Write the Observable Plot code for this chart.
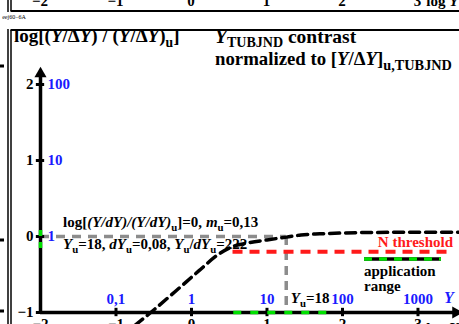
<!DOCTYPE html>
<html><head><meta charset="utf-8">
<script src="https://cdn.jsdelivr.net/npm/d3@7"></script>
<script src="https://cdn.jsdelivr.net/npm/@observablehq/plot@0.6"></script>
<style>html,body{margin:0;padding:0;background:#fff;overflow:hidden}svg{display:block}</style>
</head><body><div id="chart"></div>
<script>
// ---- data ----
const xTicks = [-2, -1, 0, 1, 2, 3];
const xTickLabels = ["−2", "−1", "0", "1", "2", "3"];
const yTicks = [2, 1, 0, -1];
const yTickLabels = ["2", "1", "0", "−1"];
const yBlueTicks = [2, 1, 0];
const yBlueLabels = ["100", "10", "1"];
const xBlueTicks = [-1, 0, 1, 2, 3];
const xBlueLabels = ["0,1", "1", "10", "100", "1000"];
const curveLogY = [-0.75, -0.54, -0.2, 0.1, 0.35, 0.55, 0.75, 1.0, 1.26, 1.45, 1.7, 2.0, 2.3, 2.8, 3.55];
const curveValue = [-1.17, -1.0, -0.71, -0.45, -0.24, -0.13, -0.085, -0.045, -0.008, 0.02, 0.035, 0.046, 0.052, 0.055, 0.056];
const logYu = 1.255;
const nThreshold = -0.2;
const thresholdRange = [0.55, 3.46];
const appRangeX = [0.56, 1.85];
const appRangeY = [0.08, -0.2];

const curve = curveLogY.map((x, i) => ({x, y: curveValue[i]}));
const serif = "'Liberation Serif', 'DejaVu Serif', serif";
const blue = "#1a1aff";
const green = "#00e000";
const gray = "#8c8c8c";

const plot = Plot.plot({
  width: 459, height: 324,
  marginTop: 0, marginRight: 0, marginBottom: 0, marginLeft: 0,
  x: {domain: [-2, 3.55], range: [40, 459], axis: null},
  y: {domain: [-1, 2], range: [312, 84], axis: null},
  style: {fontFamily: serif, background: "white", overflow: "hidden"},
  marks: [
    Plot.ruleY([0], {x1: -2, x2: logYu, stroke: gray, strokeWidth: 3.5, strokeDasharray: "9,7"}),
    Plot.ruleX([logYu], {y1: 0, y2: -1, stroke: gray, strokeWidth: 3.5, strokeDasharray: "9,6"}),
    Plot.ruleY([nThreshold], {x1: thresholdRange[0], x2: thresholdRange[1], stroke: "#ff1a1a", strokeWidth: 4, strokeDasharray: "10,7"}),
    Plot.ruleX([-2], {y1: -1, y2: 2.12, strokeWidth: 3.5}),
    Plot.ruleY([-1], {x1: -2, x2: 3.48, strokeWidth: 3.5}),
    Plot.dot([{x: -2, y: 2.14}], {x: "x", y: "y", symbol: "triangle", r: 4.5, fill: "black", stroke: null}),
    Plot.dot([{x: 3.5, y: -1}], {x: "x", y: "y", symbol: "triangle", r: 4.5, fill: "black", stroke: null, rotate: 90}),
    Plot.ruleY(yTicks, {x1: -2.055, x2: -1.945, strokeWidth: 3}),
    Plot.ruleX(xTicks.slice(1), {y1: -1.055, y2: -0.945, strokeWidth: 3}),
    Plot.ruleY([-1], {x1: appRangeX[0], x2: appRangeX[1], stroke: green, strokeWidth: 3.5, strokeDasharray: "8,9"}),
    Plot.ruleX([-2], {y1: appRangeY[0], y2: appRangeY[1], stroke: green, strokeWidth: 3.5, strokeDasharray: "6,6"}),
    Plot.line(curve, {x: "x", y: "y", stroke: "black", strokeWidth: 3.5, strokeDasharray: "10,6", curve: "monotone-x", clip: true}),
    Plot.text(yTicks, {x: () => -2, y: d => d, text: (d, i) => yTickLabels[i], textAnchor: "end", dx: -7, fontSize: 15, fontWeight: "bold", fill: "black"}),
    Plot.text(yBlueTicks, {x: () => -2, y: d => d, text: (d, i) => yBlueLabels[i], textAnchor: "start", dx: 7, fontSize: 15, fontWeight: "bold", fill: blue}),
    Plot.text(xBlueTicks, {x: d => d, y: () => -1, text: (d, i) => xBlueLabels[i], lineAnchor: "bottom", dy: -9, fontSize: 15, fontWeight: "bold", fill: blue}),
    Plot.text(xTicks, {x: d => d, y: () => -1, text: (d, i) => xTickLabels[i], lineAnchor: "top", dy: 6, fontSize: 15, fontWeight: "bold", fill: "black"})
  ]
});

document.getElementById("chart").appendChild(plot);
const svg = d3.select(plot);
const xs = plot.scale("x").apply, ys = plot.scale("y").apply;

function rich(x, y, parts, opts = {}) {
  const size = opts.size || 15;
  const sub = opts.sub || 0.72;
  const drop = opts.drop != null ? opts.drop : Math.round(size * 0.27);
  const t = svg.append("text").attr("x", x).attr("y", y)
    .attr("font-family", serif).attr("font-weight", opts.weight || "bold")
    .attr("font-size", size).attr("fill", opts.fill || "black")
    .attr("text-anchor", opts.anchor || "start");
  let shifted = 0;
  for (const p of parts) {
    const [txt, st] = Array.isArray(p) ? p : [p, ""];
    const ts = t.append("tspan").text(txt);
    if (st.includes("i")) ts.attr("font-style", "italic");
    const want = st.includes("s") ? drop : 0;
    if (want !== shifted) { ts.attr("dy", want - shifted); shifted = want; }
    if (st.includes("s")) ts.attr("font-size", size * sub);
  }
  return t;
}

const line = (x1, y1, x2, y2, w) => svg.append("line").attr("x1", x1).attr("y1", y1).attr("x2", x2).attr("y2", y2).attr("stroke", "black").attr("stroke-width", w);
line(8, 0, 8, 12, 1.5);
line(11, 0, 11, 11, 1.5);
line(10.5, 11, 459, 11, 2);
line(8, 29, 8, 324, 1.5);
line(11, 30, 11, 324, 1.5);
line(10.5, 30, 459, 30, 2);

xTicks.forEach((d, i) => svg.append("text").attr("x", xs(d)).attr("y", 6).attr("text-anchor", "middle")
  .attr("font-family", serif).attr("font-weight", "bold").attr("font-size", 15).text(xTickLabels[i]));
rich(xs(3) + 5, 6, [" log ", ["Y", "i"]]);
rich(xs(3) + 5, ys(-1) + 21, [" log ", ["Y", "i"]]);

svg.append("text").attr("x", 14).attr("y", 19).attr("font-family", serif).attr("font-size", 6).text("eej60−6A");

rich(14, 42, ["log[(", ["Y", "i"], "/Δ", ["Y", "i"], ") / (", ["Y", "i"], "/Δ", ["Y", "i"], ")", ["u", "s"], "]"], {size: 19});
rich(215, 43, [["Y", "i"], ["TUBJND", "s"], " contrast"], {size: 19.5, drop: 4});
rich(215, 65, ["normalized to [", ["Y", "i"], "/Δ", ["Y", "i"], "]", ["u,TUBJND", "s"]], {size: 18.8, sub: 0.76, drop: 5});

rich(63, 227, ["log[", ["(Y/dY)/(Y/dY)", "i"], ["u", "s"], "]=0, ", ["m", "i"], ["u", "s"], "=0,13"], {size: 15});
rich(63, 249, [["Y", "i"], ["u", "s"], "=18, ", ["dY", "i"], ["u", "s"], "=0,08, ", ["Y", "i"], ["u", "s"], "/", ["dY", "i"], ["u", "s"], "=222"], {size: 15});
rich(453, 247, ["N threshold"], {size: 15, fill: "#ff1a1a", anchor: "end"});
rich(xs(logYu) + 5, 303, [["Y", "i"], ["u", "s"], "=18"], {size: 15});
rich(444, 303, [["Y", "i"]], {size: 16, fill: blue});

svg.append("line").attr("x1", 364).attr("x2", 441).attr("y1", 259).attr("y2", 259).attr("stroke", "black").attr("stroke-width", 3.5);
svg.append("line").attr("x1", 364).attr("x2", 441).attr("y1", 259).attr("y2", 259).attr("stroke", green).attr("stroke-width", 3.5).attr("stroke-dasharray", "8,7");
rich(364, 276, ["application"], {size: 15});
rich(364, 291, ["range"], {size: 15});

[[66], [240], [311]].forEach(([y]) => svg.append("rect").attr("x", 0).attr("y", y - 1.5).attr("width", 4).attr("height", 3).attr("fill", "black"));
</script></body></html>
